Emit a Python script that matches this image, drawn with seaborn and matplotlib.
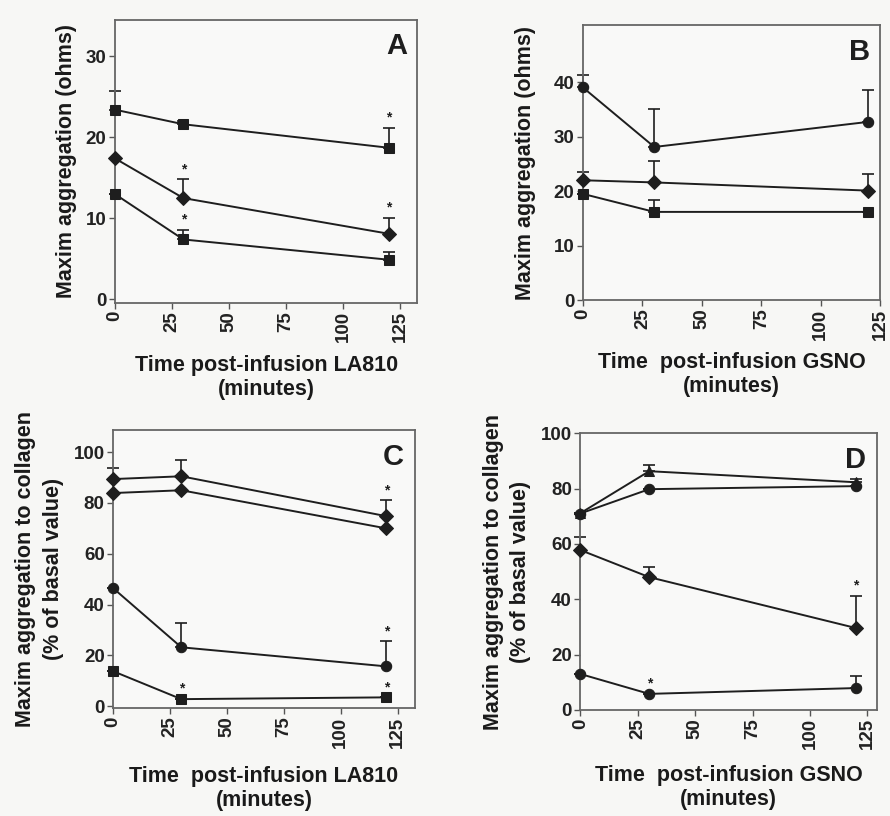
import numpy as np
import pandas as pd
import matplotlib
matplotlib.use("Agg")
import matplotlib.pyplot as plt
import seaborn as sns

sns.set_theme(style="ticks")
plt.rcParams['font.family'] = ['Liberation Sans', 'DejaVu Sans']
plt.rcParams['font.weight'] = 'bold'

times = [0, 30, 120]

# Panel A (ohms, LA810)
a_vals = [[23.4, 21.6, 18.7], [17.4, 12.5, 8.1], [13.0, 7.4, 4.9]]
a_err = [[2.3, 0.4, 2.4], [0.0, 2.3, 2.0], [0.0, 1.2, 0.9]]
a_star = [[0, 0, 1], [0, 1, 1], [0, 1, 0]]

# Panel B (ohms, GSNO)
b_vals = [[39.0, 28.1, 32.7], [22.0, 21.6, 20.1], [19.5, 16.2, 16.2]]
b_err = [[2.3, 7.0, 5.8], [1.5, 4.0, 3.0], [0.0, 2.2, 0.0]]
b_star = [[0, 0, 0], [0, 0, 0], [0, 0, 0]]

# Panel C (% basal, LA810)
c_vals = [[89.4, 90.5, 74.8], [83.9, 85.0, 70.0], [46.5, 23.2, 15.7], [13.8, 2.8, 3.5]]
c_err = [[4.5, 6.3, 6.2], [0.0, 0.0, 0.0], [0.0, 9.5, 9.8], [0.0, 0.0, 0.0]]
c_star = [[0, 0, 1], [0, 0, 0], [0, 0, 1], [0, 1, 1]]

# Panel D (% basal, GSNO)
d_vals = [[71.1, 86.3, 82.3], [71.0, 79.8, 80.9], [57.8, 48.0, 29.6], [13.0, 5.8, 7.9]]
d_err = [[0.0, 2.2, 1.2], [0.0, 0.0, 0.0], [4.7, 3.6, 11.6], [0.0, 0.0, 4.4]]
d_star = [[0, 0, 0], [0, 0, 0], [0, 0, 1], [0, 1, 0]]

panels = [
    dict(letter="A", vals=a_vals, err=a_err, star=a_star,
         ylabel="Maxim aggregation (ohms)",
         xlabel="Time post-infusion LA810\n(minutes)",
         yticks=[0, 10, 20, 30], ylim=(-0.4, 34.5), xlim=(0, 132.5),
         pos=[0.129, 0.629, 0.340, 0.347], markers=['s', 'D', 's'],
         xpad=9, ypad=6),
    dict(letter="B", vals=b_vals, err=b_err, star=b_star,
         ylabel="Maxim aggregation (ohms)",
         xlabel="Time  post-infusion GSNO\n(minutes)",
         yticks=[0, 10, 20, 30, 40], ylim=(0, 50.4), xlim=(0, 124.5),
         pos=[0.655, 0.632, 0.334, 0.337], markers=['o', 'D', 's'],
         xpad=9, ypad=13),
    dict(letter="C", vals=c_vals, err=c_err, star=c_star,
         ylabel="Maxim aggregation to collagen\n(% of basal value)",
         xlabel="Time  post-infusion LA810\n(minutes)",
         yticks=[0, 20, 40, 60, 80, 100], ylim=(-0.8, 108.7), xlim=(0, 132.5),
         pos=[0.127, 0.132, 0.339, 0.341], markers=['D', 'D', 'o', 's'],
         xpad=13, ypad=7),
    dict(letter="D", vals=d_vals, err=d_err, star=d_star,
         ylabel="Maxim aggregation to collagen\n(% of basal value)",
         xlabel="Time  post-infusion GSNO\n(minutes)",
         yticks=[0, 20, 40, 60, 80, 100], ylim=(0, 100), xlim=(0, 129),
         pos=[0.652, 0.130, 0.333, 0.339], markers=['^', 'o', 'D', 'o'],
         xpad=11, ypad=7),
]

fig = plt.figure(figsize=(8.9, 8.16), dpi=100)
fig.patch.set_facecolor('#f7f7f5')
ink = '#1e1e1e'

for p in panels:
    ax = fig.add_axes(p['pos'])
    ax.set_facecolor('#f9f9f8')
    rows = []
    for i, series in enumerate(p['vals']):
        for t, v in zip(times, series):
            rows.append(dict(time=t, value=v, series=f"s{i}"))
    df = pd.DataFrame(rows)
    n = len(p['vals'])
    mk = {f"s{i}": p['markers'][i] for i in range(n)}
    sns.lineplot(data=df, x='time', y='value', hue='series', style='series',
                 markers=mk, dashes=False, palette=[ink] * n, ax=ax,
                 linewidth=1.4, markersize=7.5, markeredgecolor=ink,
                 legend=False, zorder=3, clip_on=False)
    ymax = p['ylim'][1]
    for i, series in enumerate(p['vals']):
        up = p['err'][i]
        lo = [0] * len(up)
        eb = ax.errorbar(times, series, yerr=[lo, up], fmt='none', ecolor=ink,
                         elinewidth=1.2, capsize=4, capthick=1.2, zorder=2)
        for art in eb.get_children():
            art.set_clip_on(False)
        for t, v, e, s in zip(times, series, up, p['star'][i]):
            if s:
                ax.text(t, v + e + ymax * 0.012, "*", ha='center', va='bottom',
                        fontsize=10, color=ink)
    ax.set_xlim(*p['xlim'])
    ax.set_ylim(*p['ylim'])
    ax.set_xticks([0, 25, 50, 75, 100, 125])
    ax.set_xticklabels(["0", "25", "50", "75", "100", "125"], rotation=90,
                       fontsize=13.5, fontweight='bold', color='#222')
    ax.set_yticks(p['yticks'])
    ax.set_yticklabels([str(v) for v in p['yticks']], fontsize=13.5,
                       fontweight='bold', color='#222')
    ax.tick_params(axis='both', direction='out', length=4, width=1,
                   color='#555', pad=2)
    for sp in ax.spines.values():
        sp.set_color('#666')
        sp.set_linewidth(1.3)
        sp.set_visible(True)
    ax.set_xlabel(p['xlabel'], fontsize=15.5, fontweight='bold', color='#1a1a1a',
                  labelpad=p['xpad'], linespacing=1.2)
    ax.set_ylabel(p['ylabel'], fontsize=15.5, fontweight='bold', color='#1a1a1a',
                  labelpad=p['ypad'], linespacing=1.4)
    ax.text(0.965, 0.955, p['letter'], transform=ax.transAxes, ha='right',
            va='top', fontsize=21, fontweight='bold', color=ink)

fig.savefig("out.png", dpi=100, facecolor=fig.get_facecolor())
